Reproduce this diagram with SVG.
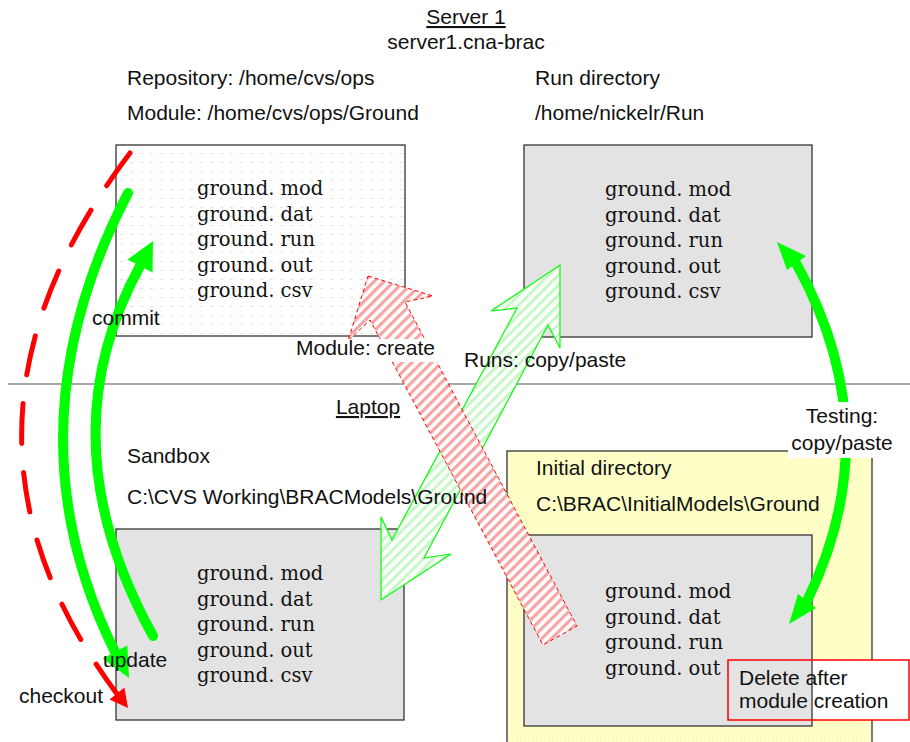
<svg xmlns="http://www.w3.org/2000/svg" width="910" height="742" viewBox="0 0 910 742">
<defs>
<pattern id="dots" patternUnits="userSpaceOnUse" width="10" height="9"><rect x="0" y="0" width="3" height="1" fill="#e2e2e2"/></pattern>
<pattern id="yel" patternUnits="userSpaceOnUse" width="4" height="4"><rect width="4" height="4" fill="#ffffe6"/><rect width="2" height="2" fill="#ffffa8"/><rect x="2" y="2" width="2" height="2" fill="#ffffa8"/></pattern>
<pattern id="redHatch" patternUnits="userSpaceOnUse" width="7" height="7" patternTransform="rotate(45)"><rect width="7" height="7" fill="#ffffff"/><rect width="3.2" height="7" fill="#f6a4a4"/></pattern>
<pattern id="greenHatch" patternUnits="userSpaceOnUse" width="7" height="7" patternTransform="rotate(45)"><rect width="7" height="7" fill="#ffffff"/><rect width="3" height="7" fill="#c8f7c8"/></pattern>
<style>
.t{font-family:"Liberation Sans",Arial,sans-serif;font-size:21px;fill:#111}
.c{text-anchor:middle}
.u{text-decoration:underline}
.f{font-family:"DejaVu Serif","Liberation Serif",serif;font-size:19.5px;fill:#111}
.box{stroke:#333;stroke-width:1.3}
.gray{fill:#e3e3e3}
.gc{fill:none;stroke:#00ff00;stroke-width:10;stroke-linecap:round}
.gh{fill:#00ff00}
.rh{fill:#ff0000}
</style>
</defs>
<rect width="910" height="742" fill="#ffffff"/>

<line id="divider" x1="8" y1="384" x2="910" y2="384" stroke="#555" stroke-width="1.2"/>

<g id="server-title">
<text class="t c u" x="466" y="24">Server 1</text>
<text class="t c" x="466" y="49">server1.cna-brac</text>
</g>

<g id="repository">
<text class="t" x="127" y="85">Repository: /home/cvs/ops</text>
<text class="t" x="127" y="120">Module: /home/cvs/ops/Ground</text>
<rect class="box" x="116" y="145" width="289" height="191" fill="#ffffff"/>
<rect x="117" y="146" width="287" height="189" fill="url(#dots)"/>
<text class="f" x="197" y="195">ground. mod</text>
<text class="f" x="197" y="221">ground. dat</text>
<text class="f" x="197" y="246">ground. run</text>
<text class="f" x="197" y="272">ground. out</text>
<text class="f" x="197" y="297">ground. csv</text>
</g>

<g id="run-directory">
<text class="t" x="535" y="85">Run directory</text>
<text class="t" x="535" y="120">/home/nickelr/Run</text>
<rect class="box gray" x="524" y="145" width="288" height="192"/>
<text class="f" x="605" y="196">ground. mod</text>
<text class="f" x="605" y="222">ground. dat</text>
<text class="f" x="605" y="247">ground. run</text>
<text class="f" x="605" y="273">ground. out</text>
<text class="f" x="605" y="298">ground. csv</text>
</g>

<g id="laptop-title">
<text class="t c u" x="368" y="414">Laptop</text>
</g>

<g id="sandbox">
<rect class="box gray" x="116" y="529" width="288" height="191"/>
<text class="f" x="197" y="580">ground. mod</text>
<text class="f" x="197" y="606">ground. dat</text>
<text class="f" x="197" y="631">ground. run</text>
<text class="f" x="197" y="657">ground. out</text>
<text class="f" x="197" y="682">ground. csv</text>
</g>

<g id="initial-directory">
<rect class="box" x="507" y="451" width="365" height="300" fill="url(#yel)"/>
<text class="t" x="536" y="475">Initial directory</text>
<text class="t" x="536" y="511">C:\BRAC\InitialModels\Ground</text>
<rect id="delete-note-bg" x="728" y="660" width="181" height="60" fill="#ffffff"/>
<rect class="box gray" x="524" y="535" width="288" height="191"/>
<text class="f" x="605" y="598">ground. mod</text>
<text class="f" x="605" y="624">ground. dat</text>
<text class="f" x="605" y="649">ground. run</text>
<text class="f" x="605" y="675">ground. out</text>
</g>

<g id="connectors">
<polygon id="runs-copy" points="560,265 560,348 548,325 424,558 451,554 381,600 381,517 392,540 517,308 491,311" fill="url(#greenHatch)" stroke="#00ff00" stroke-width="1.2"/>
<polygon id="module-create" points="368,276 433,296 405,302 577,626 543,645 370,320 348,341" fill="url(#redHatch)" stroke="#ff0000" stroke-width="1" stroke-dasharray="4 3"/>
<g id="checkout">
<path d="M130,153 Q -80,430 117,694" fill="none" stroke="#ff0000" stroke-width="5" stroke-linecap="round" stroke-dasharray="40 29"/>
<polygon class="rh" points="128,708 124.4,687.6 109.6,699.4"/>
</g>
<g id="update">
<path class="gc" d="M128,193 Q 5,430 115,652"/>
<polygon class="gh" points="129,678 127.3,645.4 102.7,658.6"/>
</g>
<g id="commit">
<path class="gc" d="M153,636 Q 45,440 140,266"/>
<polygon class="gh" points="153,241 152.5,272.4 127.5,259.6"/>
</g>
<g id="testing">
<path class="gc" d="M796,263 Q 890,432 807,601"/>
<polygon class="gh" points="777,242 806,256 787,270"/>
<polygon class="gh" points="789,624 816,608 798,594"/>
</g>
</g>

<g id="sandbox-label">
<text class="t" x="127" y="463">Sandbox</text>
<text class="t" x="127" y="504">C:\CVS Working\BRACModels\Ground</text>
</g>

<g id="labels">
<text class="t" x="92" y="325">commit</text>
<rect x="294" y="339" width="143" height="23" fill="#ffffff"/>
<text class="t" x="296" y="355">Module: create</text>
<text class="t" x="464" y="367">Runs: copy/paste</text>
<text class="t" x="103" y="667">update</text>
<text class="t" x="19" y="703">checkout</text>
<rect x="788" y="402" width="107" height="56" fill="#ffffff"/>
<text class="t c" x="842" y="423">Testing:</text>
<text class="t c" x="842" y="450">copy/paste</text>
</g>

<g id="delete-note">
<rect x="728" y="660" width="181" height="60" fill="none" stroke="#ff0000" stroke-width="1.5"/>
<text class="t" x="739" y="685">Delete after</text>
<text class="t" x="739" y="708">module creation</text>
</g>
</svg>
